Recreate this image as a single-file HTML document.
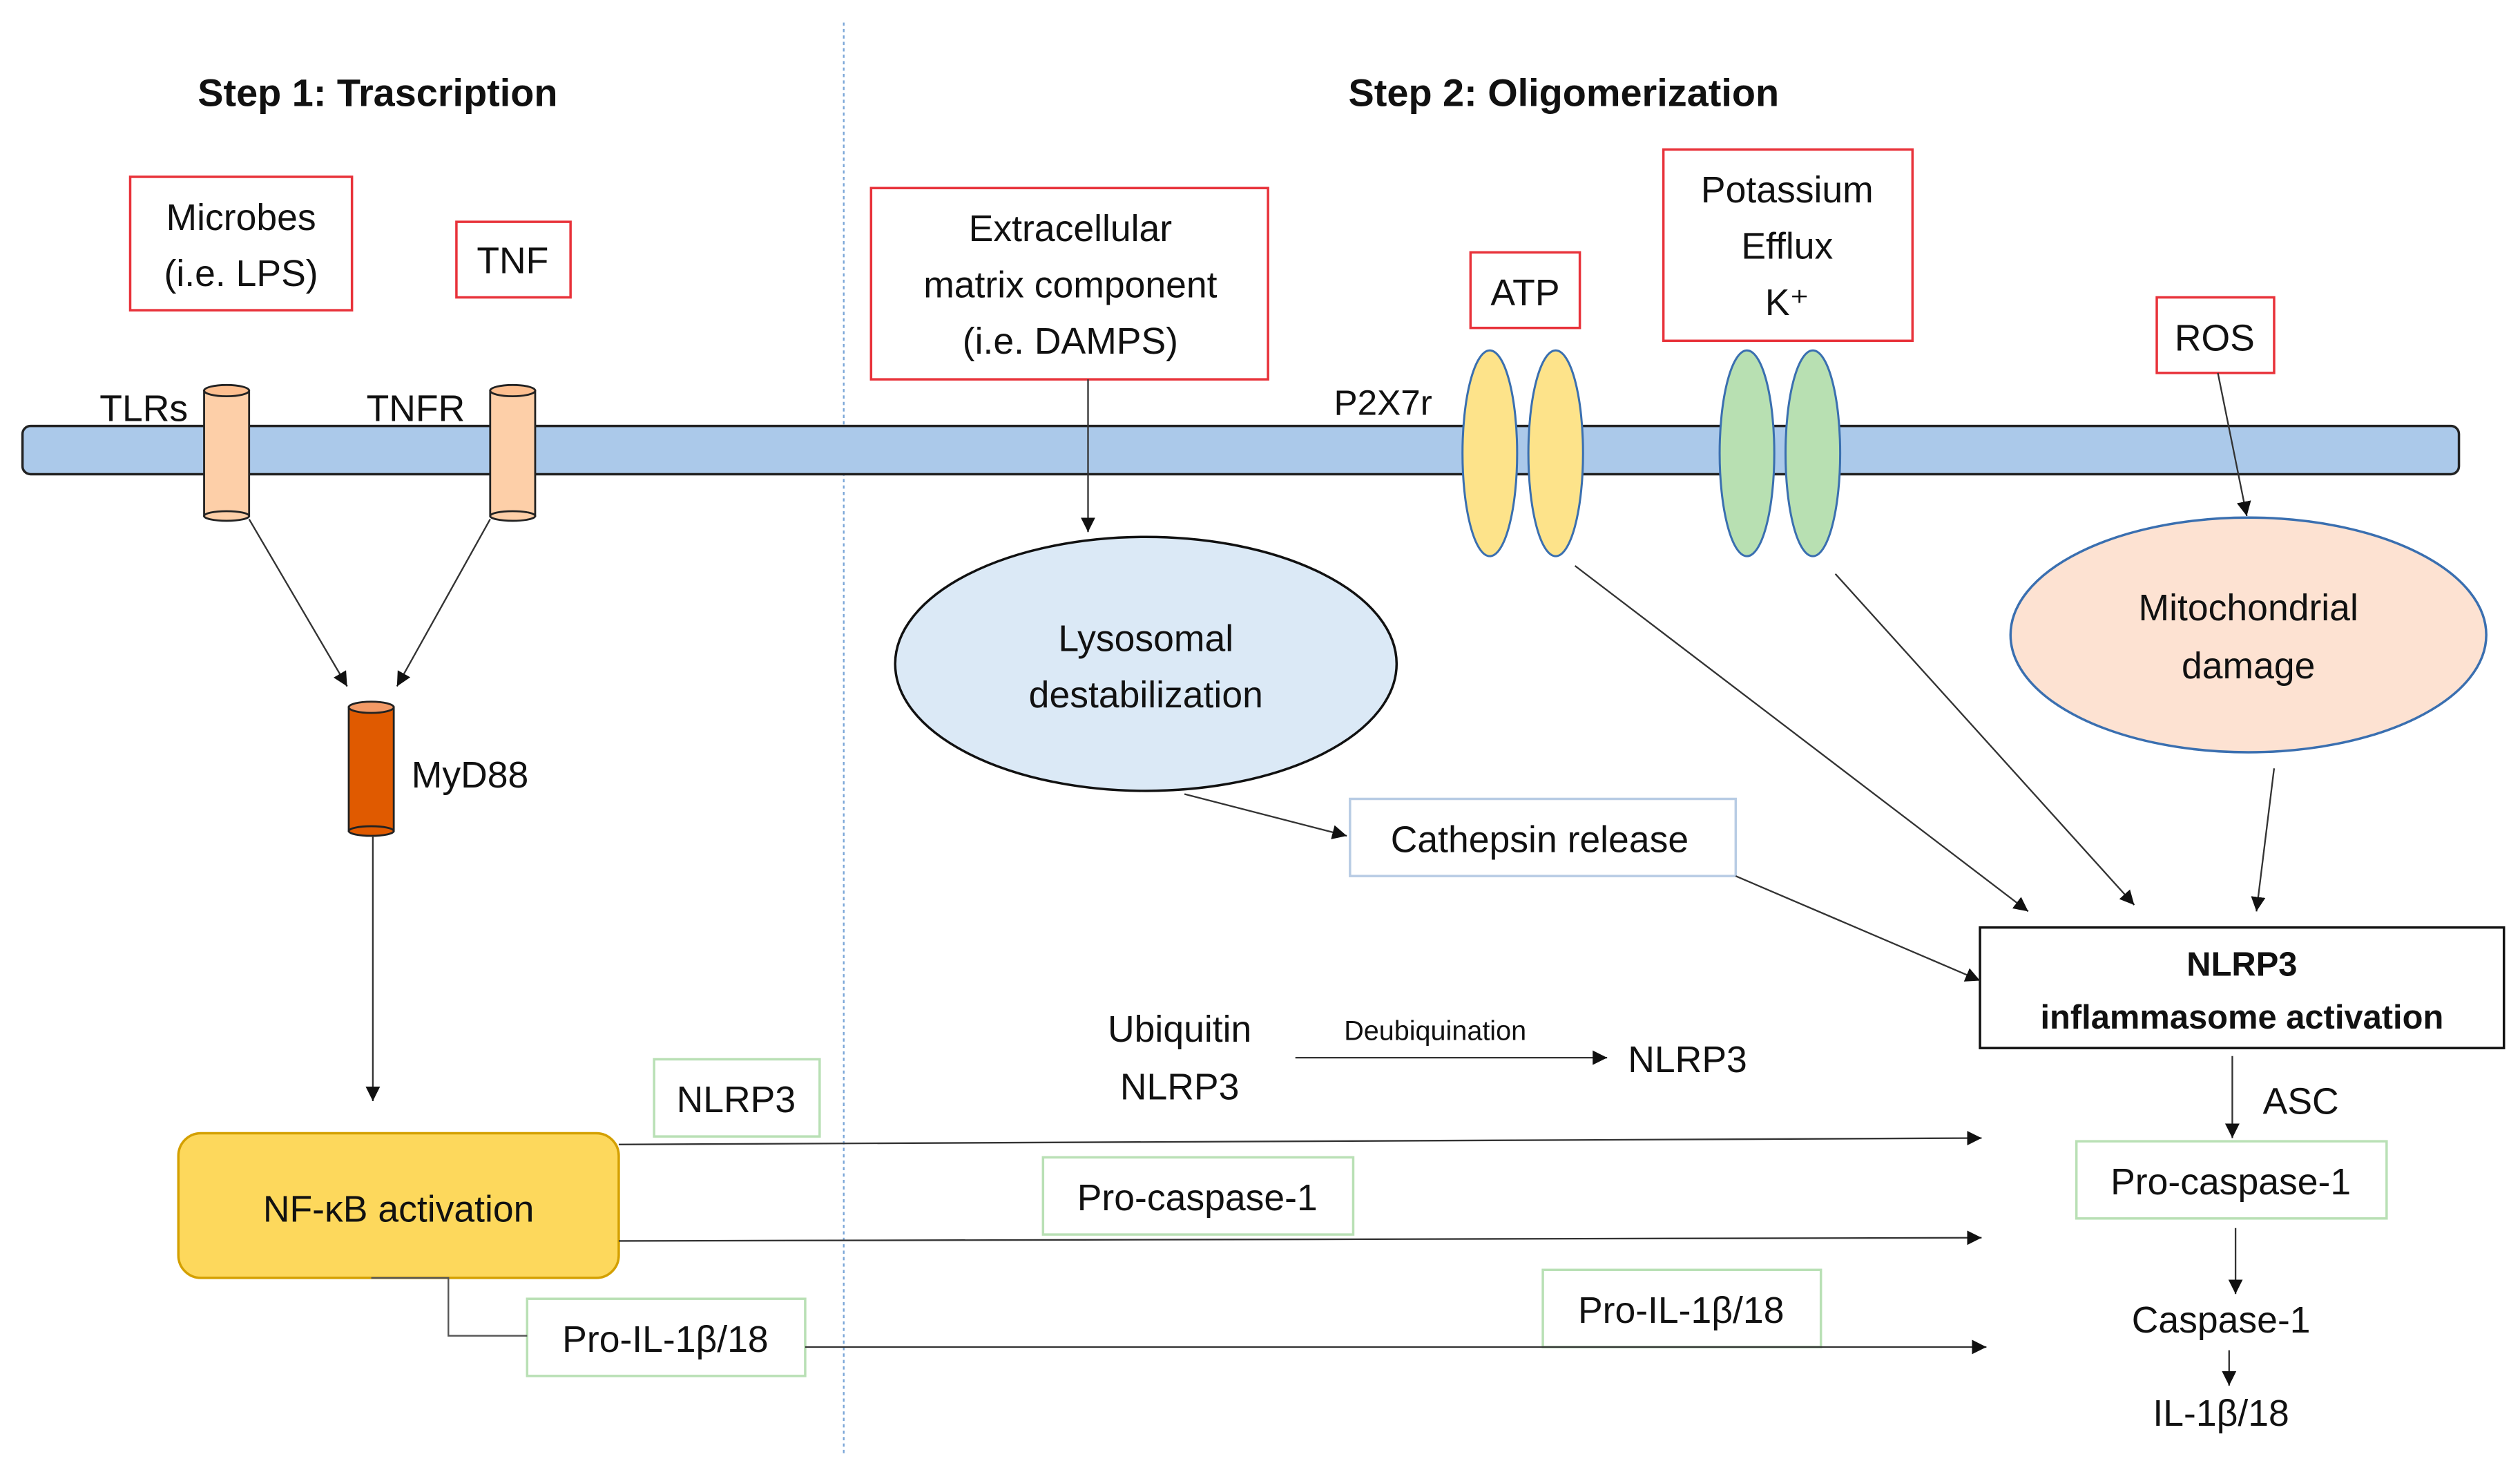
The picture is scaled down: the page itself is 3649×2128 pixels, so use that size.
<!DOCTYPE html>
<html><head><meta charset="utf-8"><style>
html,body{margin:0;padding:0;background:#fff;}
svg{display:block;}
text{font-family:"Liberation Sans",sans-serif;fill:#111;}
.t{font-size:23px;text-anchor:middle;}
.b{font-weight:bold;}
</style></head><body>
<svg width="3649" height="2128" viewBox="0 0 1568 914.5" preserveAspectRatio="none" xmlns="http://www.w3.org/2000/svg">
<defs>
<marker id="a" viewBox="0 0 10 10" refX="10" refY="5" markerWidth="9" markerHeight="9" markerUnits="userSpaceOnUse" orient="auto"><path d="M0,0L10,5L0,10z" fill="#111"/></marker>
</defs>
<rect width="1568" height="914.5" fill="#fff"/>
<line x1="525" y1="14" x2="525" y2="905" stroke="#7aa6d8" stroke-width="1" stroke-dasharray="2,2"/>
<text x="235" y="66" class="t b" style="font-size:24px">Step 1: Trascription</text>
<text x="973" y="66" class="t b" style="font-size:24px">Step 2: Oligomerization</text>

<rect x="14" y="265" width="1516" height="30" rx="5" fill="#abc9ea" stroke="#222" stroke-width="1.5"/>

<g fill="#fff" stroke="#e8323a" stroke-width="1.5">
<rect x="81" y="110" width="138" height="83"/>
<rect x="284" y="138" width="71" height="47"/>
<rect x="542" y="117" width="247" height="119"/>
<rect x="915" y="157" width="68" height="47"/>
<rect x="1035" y="93" width="155" height="119"/>
<rect x="1342" y="185" width="73" height="47"/>
</g>
<text x="150" y="143" class="t">Microbes</text>
<text x="150" y="178" class="t">(i.e. LPS)</text>
<text x="319" y="170" class="t">TNF</text>
<text x="666" y="150" class="t">Extracellular</text>
<text x="666" y="185" class="t">matrix component</text>
<text x="666" y="220" class="t">(i.e. DAMPS)</text>
<text x="949" y="190" class="t">ATP</text>
<text x="1112" y="126" class="t">Potassium</text>
<text x="1112" y="161" class="t">Efflux</text>
<text x="1112" y="196" class="t">K⁺</text>
<text x="1378" y="218" class="t">ROS</text>

<g stroke="#222" stroke-width="1.2">
<rect x="127" y="243" width="28" height="78" fill="#fdcfa8"/>
<ellipse cx="141" cy="321" rx="14" ry="3" fill="#fdcfa8"/>
<ellipse cx="141" cy="243" rx="14" ry="3.5" fill="#fdbf90"/>
<rect x="305" y="243" width="28" height="78" fill="#fdcfa8"/>
<ellipse cx="319" cy="321" rx="14" ry="3" fill="#fdcfa8"/>
<ellipse cx="319" cy="243" rx="14" ry="3.5" fill="#fdbf90"/>
<rect x="217" y="440" width="28" height="77" fill="#e05a00"/>
<ellipse cx="231" cy="517" rx="14" ry="3" fill="#e05a00"/>
<ellipse cx="231" cy="440" rx="14" ry="3.5" fill="#f39a66"/>
</g>
<text x="62" y="262" style="font-size:23px">TLRs</text>
<text x="228" y="262" style="font-size:23px">TNFR</text>
<text x="256" y="490" style="font-size:23px">MyD88</text>
<text x="830" y="258" style="font-size:22px">P2X7r</text>

<g stroke="#3a6fb0" stroke-width="1.3">
<ellipse cx="927" cy="282" rx="17" ry="64" fill="#fde38a"/>
<ellipse cx="968" cy="282" rx="17" ry="64" fill="#fde38a"/>
<ellipse cx="1087" cy="282" rx="17" ry="64" fill="#b8e0b2"/>
<ellipse cx="1128" cy="282" rx="17" ry="64" fill="#b8e0b2"/>
</g>

<ellipse cx="713" cy="413" rx="156" ry="79" fill="#dbe9f6" stroke="#111" stroke-width="1.5"/>
<text x="713" y="405" class="t">Lysosomal</text>
<text x="713" y="440" class="t">destabilization</text>
<ellipse cx="1399" cy="395" rx="148" ry="73" fill="#fde2d2" stroke="#3a6fb0" stroke-width="1.5"/>
<text x="1399" y="386" class="t">Mitochondrial</text>
<text x="1399" y="422" class="t">damage</text>

<rect x="840" y="497" width="240" height="48" fill="#fff" stroke="#b8cce4" stroke-width="1.5"/>
<text x="958" y="530" class="t">Cathepsin release</text>

<rect x="1232" y="577" width="326" height="75" fill="#fff" stroke="#111" stroke-width="1.5"/>
<text x="1395" y="607" class="t b" style="font-size:21px;font-stretch:condensed">NLRP3</text>
<text x="1395" y="640" class="t b" style="font-size:21px;font-stretch:condensed">inflammasome activation</text>

<rect x="111" y="705" width="274" height="90" rx="14" fill="#fdd85c" stroke="#d4a000" stroke-width="1.5"/>
<text x="248" y="760" class="t">NF-κB activation</text>

<g fill="#fff" stroke="#b9e0b5" stroke-width="1.5">
<rect x="407" y="659" width="103" height="48"/>
<rect x="649" y="720" width="193" height="48"/>
<rect x="328" y="808" width="173" height="48"/>
<rect x="960" y="790" width="173" height="48"/>
<rect x="1292" y="710" width="193" height="48"/>
</g>
<text x="458" y="692" class="t">NLRP3</text>
<text x="745" y="753" class="t">Pro-caspase-1</text>
<text x="414" y="841" class="t">Pro-IL-1β/18</text>
<text x="1046" y="823" class="t">Pro-IL-1β/18</text>
<text x="1388" y="743" class="t">Pro-caspase-1</text>

<text x="734" y="648" class="t">Ubiquitin</text>
<text x="734" y="684" class="t">NLRP3</text>
<text x="893" y="647" class="t" style="font-size:17px">Deubiquination</text>
<text x="1050" y="667" class="t">NLRP3</text>
<text x="1408" y="693" style="font-size:23px">ASC</text>
<text x="1382" y="829" class="t">Caspase-1</text>
<text x="1382" y="887" class="t">IL-1β/18</text>

<g stroke="#333" stroke-width="1" fill="none" marker-end="url(#a)">
<line x1="155" y1="323" x2="216" y2="427"/>
<line x1="305" y1="323" x2="247" y2="427"/>
<line x1="232" y1="520" x2="232" y2="685"/>
<line x1="385" y1="712" x2="1233" y2="708"/>
<line x1="385" y1="772" x2="1233" y2="770"/>
<line x1="501" y1="838" x2="1236" y2="838"/>
<line x1="677" y1="236" x2="677" y2="331"/>
<line x1="737" y1="494" x2="838" y2="520"/>
<line x1="1080" y1="545" x2="1232" y2="610"/>
<line x1="1380" y1="232" x2="1398" y2="321"/>
<line x1="980" y1="352" x2="1262" y2="567"/>
<line x1="1142" y1="357" x2="1328" y2="563"/>
<line x1="1415" y1="478" x2="1404" y2="567"/>
<line x1="806" y1="658" x2="1000" y2="658"/>
<line x1="1389" y1="657" x2="1389" y2="708"/>
<line x1="1391" y1="764" x2="1391" y2="805"/>
<line x1="1387" y1="840" x2="1387" y2="862"/>
</g>
<polyline points="231,795 279,795 279,831 328,831" fill="none" stroke="#555" stroke-width="1"/>
</svg>
</body></html>
